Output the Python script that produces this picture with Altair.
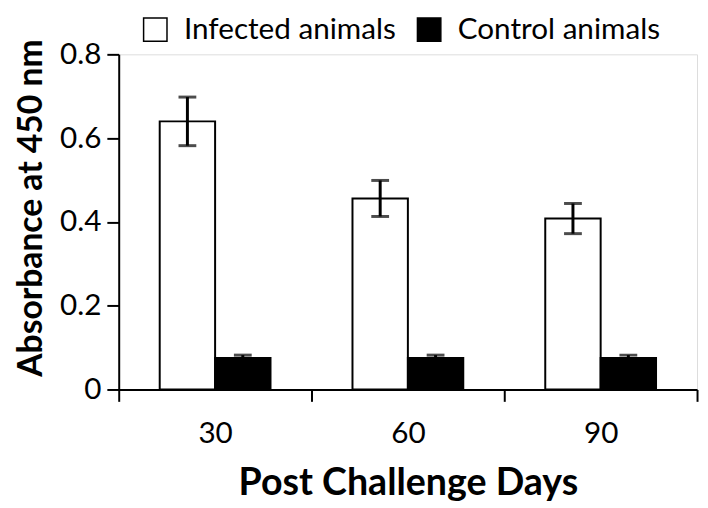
import altair as alt
import pandas as pd

days = ["30", "60", "90"]
groups = ["Infected animals", "Control animals"]
infected = [0.64, 0.456, 0.408]
infected_err = [0.058, 0.043, 0.036]
control = [0.075, 0.075, 0.075]
control_err = [0.007, 0.007, 0.007]

rows = []
for i, d in enumerate(days):
    rows.append({"day": d, "group": groups[0], "value": infected[i],
                 "lo": infected[i] - infected_err[i], "hi": infected[i] + infected_err[i]})
    rows.append({"day": d, "group": groups[1], "value": control[i],
                 "lo": control[i] - control_err[i], "hi": control[i] + control_err[i]})
df = pd.DataFrame(rows)

FONT = "Lato"

x_enc = alt.X("day:N", sort=days, title="Post Challenge Days",
              scale=alt.Scale(paddingInner=0, paddingOuter=0),
              axis=alt.Axis(labelAngle=0, tickBand="extent", tickSize=12, tickWidth=2,
                            tickColor="black", domainColor="black", domainWidth=2,
                            labelFontSize=30, labelFont=FONT, labelColor="black",
                            labelPadding=18, titleFontSize=38, titleFont=FONT,
                            titleFontWeight="bold", titleColor="black", titlePadding=16))
xo_enc = alt.XOffset("group:N", sort=groups,
                     scale=alt.Scale(paddingInner=0, paddingOuter=0.74))

bars = alt.Chart(df).mark_bar(stroke="black", strokeWidth=2).encode(
    x=x_enc,
    xOffset=xo_enc,
    y=alt.Y("value:Q", title="Absorbance at 450 nm",
            scale=alt.Scale(domain=[0, 0.8], nice=False),
            axis=alt.Axis(values=[0, 0.2, 0.4, 0.6, 0.8], grid=False,
                          labelExpr="datum.value == 0 ? '0' : format(datum.value, '.1f')",
                          tickSize=12, tickWidth=2, tickColor="black",
                          domainColor="black", domainWidth=2,
                          labelFontSize=30, labelFont=FONT, labelColor="black",
                          labelPadding=6, titleFontSize=34, titleFont=FONT,
                          titleFontWeight="bold", titleColor="black",
                          titleX=-88, titleY=155, titleAlign="center",
                          titleBaseline="middle", titleAngle=270)),
    fill=alt.Fill("group:N", sort=groups,
                  scale=alt.Scale(domain=groups, range=["white", "black"]),
                  legend=alt.Legend(title=None, orient="none", direction="horizontal",
                                    legendX=22, legendY=-40, symbolType="square",
                                    symbolSize=560, symbolStrokeColor="black",
                                    symbolStrokeWidth=1.5, labelFontSize=30,
                                    labelFont=FONT, labelColor="black", labelOffset=14,
                                    labelLimit=0, columnPadding=18)),
)

err = alt.Chart(df).mark_rule(color="black", strokeWidth=3).encode(
    x=alt.X("day:N", sort=days), xOffset=xo_enc,
    y="lo:Q", y2="hi:Q")

caps_hi = alt.Chart(df).mark_tick(color="black", thickness=3, size=18, orient="horizontal").encode(
    x=alt.X("day:N", sort=days), xOffset=xo_enc, y="hi:Q")
caps_lo = alt.Chart(df).mark_tick(color="black", thickness=3, size=18, orient="horizontal").encode(
    x=alt.X("day:N", sort=days), xOffset=xo_enc, y="lo:Q")

chart = alt.layer(bars, err, caps_hi, caps_lo).properties(
    width=585, height=339,
    autosize=alt.AutoSizeParams(type="none"),
    padding={"left": 112, "top": 44, "right": 3, "bottom": 116},
).configure_view(stroke=None).configure(background="white")

chart.save("out.html", embed_options={"renderer": "svg", "actions": False})
